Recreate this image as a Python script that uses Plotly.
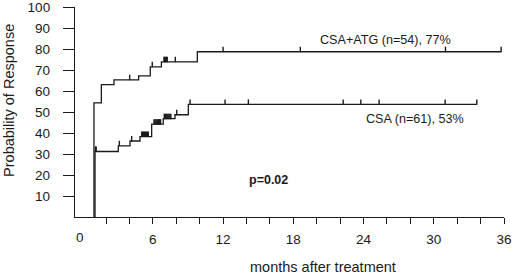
import plotly.graph_objects as go
import numpy as np

# ---- data ----
atg_times = [0.97, 1.60, 2.68, 4.79, 5.78, 6.73, 9.80, 35.76]
atg_prob = [54.3, 63.0, 65.3, 67.2, 71.5, 73.9, 78.7, 78.7]
atg_censor = [4.02, 5.95, 6.95, 7.02, 7.09, 7.16, 7.23, 7.92, 12.0, 18.6, 31.0, 35.76]

csa_times = [1.06, 3.05, 4.05, 4.90, 5.90, 6.89, 7.89, 9.03, 33.68]
csa_prob = [31.2, 33.9, 36.2, 38.3, 44.2, 46.8, 48.7, 53.6, 53.6]
csa_censor = [1.10, 1.16, 3.14, 4.19,
              5.05, 5.13, 5.21, 5.29, 5.37, 5.45, 5.53, 5.61,
              6.10, 6.18, 6.26, 6.34, 6.42, 6.50, 6.58, 6.66,
              6.98, 7.06, 7.14, 7.22, 7.30, 7.38, 7.46, 7.54,
              8.04, 9.18, 12.17, 14.16, 22.26, 23.77, 25.33, 30.97, 33.68]

x_tick_vals = list(range(2, 37, 2))
x_tick_labels = [str(v) if v % 6 == 0 else "" for v in x_tick_vals]
y_tick_vals = list(range(10, 101, 10))

labels = {
    "atg": "CSA+ATG (n=54), 77%",
    "csa": "CSA (n=61), 53%",
    "p": "<b>p=0.02</b>",
    "xtitle": "months after treatment",
    "ytitle": "Probability of Response",
}

FONT = "Liberation Sans, Arial, Helvetica, sans-serif"
INK = "#1a1a1a"


def level_at(times, probs, t):
    idx = np.searchsorted(np.array(times), t, side="right") - 1
    idx = max(idx, 0)
    return probs[idx]


fig = go.Figure()

for times, probs, cens in [(atg_times, atg_prob, atg_censor),
                           (csa_times, csa_prob, csa_censor)]:
    fig.add_trace(go.Scatter(
        x=[times[0]] + times, y=[0] + probs,
        mode="lines", line=dict(shape="hv", color=INK, width=1.3),
        hoverinfo="skip", showlegend=False, cliponaxis=False))
    cy = [level_at(times, probs, t) for t in cens]
    fig.add_trace(go.Scatter(
        x=cens, y=cy, mode="markers",
        marker=dict(size=1, color=INK),
        error_y=dict(type="data", symmetric=False,
                     array=[2.4] * len(cens), arrayminus=[0] * len(cens),
                     width=0, thickness=1.4, color=INK),
        hoverinfo="skip", showlegend=False))

T, B = 7, 57
PH = 274 - T - B

ann_font = dict(family=FONT, size=12.6, color=INK)
fig.add_annotation(x=25.9, y=84.3, xref="x", yref="y", text=labels["atg"],
                   showarrow=False, font=ann_font, xanchor="center", yanchor="middle")
fig.add_annotation(x=28.4, y=46.8, xref="x", yref="y", text=labels["csa"],
                   showarrow=False, font=ann_font, xanchor="center", yanchor="middle")
fig.add_annotation(x=15.9, y=17.5, xref="x", yref="y", text=labels["p"],
                   showarrow=False, font=dict(family=FONT, size=12.5, color=INK),
                   xanchor="center", yanchor="middle")
# "0" tick label (no tick mark at 0 in the reference)
fig.add_annotation(x=-0.2, y=-(237 - (274 - B)) / PH, xref="x", yref="paper", text="0",
                   showarrow=False, font=dict(family=FONT, size=13.5, color=INK),
                   xanchor="center", yanchor="middle")
fig.add_annotation(x=20.54, y=-(266.5 - (274 - B)) / PH, xref="x", yref="paper",
                   text=labels["xtitle"],
                   showarrow=False, font=dict(family=FONT, size=14.5, color=INK),
                   xanchor="center", yanchor="middle")
fig.add_annotation(x=-0.154, y=((274 - B) - 100) / PH, xref="paper", yref="paper",
                   text=labels["ytitle"],
                   showarrow=False, textangle=-90,
                   font=dict(family=FONT, size=14.5, color=INK),
                   xanchor="center", yanchor="middle")

fig.update_layout(
    width=520, height=274,
    margin=dict(l=75, r=16, t=T, b=B, pad=0, autoexpand=False),
    paper_bgcolor="white", plot_bgcolor="white",
    font=dict(family=FONT, size=13.5, color=INK),
    xaxis=dict(range=[-0.65, 36], showgrid=False, zeroline=False, automargin=False,
               showline=True, linecolor=INK, linewidth=1.3,
               tickmode="array", tickvals=x_tick_vals, ticktext=x_tick_labels,
               ticks="outside", ticklen=6, tickwidth=1.3, tickcolor=INK,
               tickfont=dict(family=FONT, size=13.5, color=INK),
               ticklabelstandoff=4, ticklabeloverflow="allow", fixedrange=True),
    yaxis=dict(range=[0, 100], showgrid=False, zeroline=False, automargin=False,
               showline=True, linecolor=INK, linewidth=1.3,
               tickmode="array", tickvals=y_tick_vals,
               ticks="outside", ticklen=11, tickwidth=1.3, tickcolor=INK,
               tickfont=dict(family=FONT, size=13.5, color=INK),
               ticklabelstandoff=10, ticklabeloverflow="allow", fixedrange=True),
)

fig.write_html("out.html", config={"displayModeBar": False},
               post_script="document.body.style.margin='0';document.body.style.padding='0';")
